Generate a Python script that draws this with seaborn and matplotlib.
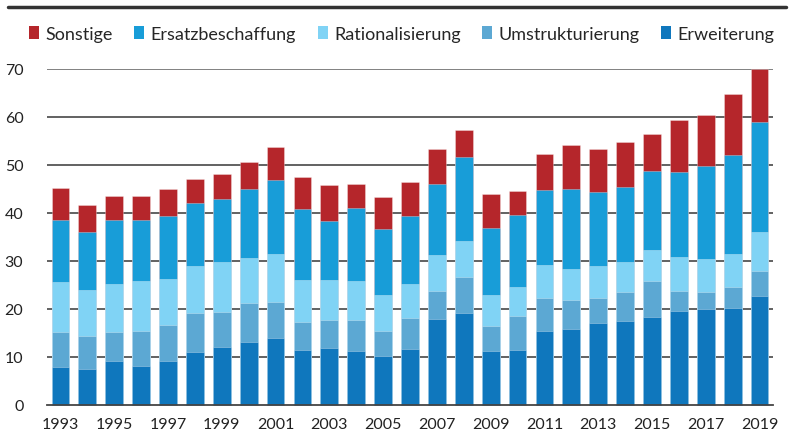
import matplotlib
matplotlib.use("Agg")
import matplotlib.pyplot as plt
import seaborn as sns
import pandas as pd
import numpy as np
from matplotlib.lines import Line2D
from matplotlib.patches import Patch

years = list(range(1993, 2020))
erweiterung = [7.9, 7.5, 9.2, 8.2, 9.2, 11.1, 12.1, 13.2, 14.0, 11.5, 11.9, 11.3, 10.2, 11.7,
               18.0, 19.2, 11.3, 11.5, 15.4, 15.9, 17.0, 17.5, 18.4, 19.6, 20.0, 20.3, 22.8]
umstrukturierung = [7.4, 6.9, 6.1, 7.3, 7.5, 8.1, 7.3, 8.1, 7.5, 5.8, 5.8, 6.4, 5.2, 6.5,
                    5.8, 7.5, 5.2, 7.1, 6.8, 6.0, 5.3, 6.1, 7.5, 4.2, 3.6, 4.3, 5.2]
rationalisierung = [10.4, 9.6, 10.0, 10.4, 9.6, 9.7, 10.3, 9.4, 10.0, 8.8, 8.4, 8.2, 7.6, 7.1,
                    7.4, 7.5, 6.5, 6.0, 7.0, 6.5, 6.6, 6.2, 6.4, 7.0, 6.8, 6.9, 8.0]
ersatzbeschaffung = [12.9, 12.1, 13.2, 12.7, 13.1, 13.1, 13.3, 14.4, 15.4, 14.7, 12.2, 15.2, 13.7, 14.1,
                     14.9, 17.4, 13.9, 15.0, 15.6, 16.6, 15.5, 15.6, 16.4, 17.7, 19.4, 20.6, 23.0]
sonstige = [6.6, 5.6, 5.1, 5.0, 5.5, 5.0, 5.1, 5.5, 6.8, 6.7, 7.5, 5.0, 6.6, 7.0,
            7.2, 5.6, 7.0, 4.9, 7.5, 9.1, 8.9, 9.4, 7.7, 10.8, 10.7, 12.7, 11.1]

series_names = ["Erweiterung", "Umstrukturierung", "Rationalisierung", "Ersatzbeschaffung", "Sonstige"]
colors = {"Erweiterung": "#0f77bd", "Umstrukturierung": "#5ca8d3", "Rationalisierung": "#80d3f5",
          "Ersatzbeschaffung": "#189dd8", "Sonstige": "#b5262b"}

df = pd.DataFrame({"Jahr": [str(y) for y in years],
                   "Erweiterung": erweiterung, "Umstrukturierung": umstrukturierung,
                   "Rationalisierung": rationalisierung, "Ersatzbeschaffung": ersatzbeschaffung,
                   "Sonstige": sonstige})
cum = df[series_names].cumsum(axis=1)
cum["Jahr"] = df["Jahr"]

sns.set_style("white")
plt.rcParams["font.family"] = ["Lato", "DejaVu Sans"]

fig = plt.figure(figsize=(7.94, 4.39), dpi=100)
ax = fig.add_axes([47/794, 1-406/439, 726/794, 336/439])

for name in reversed(series_names):
    sns.barplot(data=cum, x="Jahr", y=name, color=colors[name], width=0.66, ax=ax,
                edgecolor=(1, 1, 1, 0.35), linewidth=0.6, saturation=1, zorder=3)

ax.set_xlim(-0.5, len(years) - 0.5)
ax.set_ylim(0, 70)
for p in ax.patches:
    p.set_clip_on(False)

ax.set_yticks(np.arange(0, 71, 10))
ax.set_yticklabels([str(v) for v in range(0, 71, 10)], fontsize=11.5, color="#222222")
ax.tick_params(axis="y", length=0, pad=17)
for v in range(10, 71, 10):
    ax.axhline(v, color="#555555" if v < 70 else "#777777", lw=1.3, zorder=1)

ax.set_xticks(np.arange(0, len(years), 2))
ax.set_xticklabels([str(y) for y in years[::2]], fontsize=11.5, color="#222222")
ax.set_xticks(np.arange(-0.5, len(years), 1), minor=True)
ax.tick_params(axis="x", which="major", length=0, pad=9)
ax.tick_params(axis="x", which="minor", length=4.5, width=1.1, color="#444444")
ax.set_xlabel("")
ax.set_ylabel("")

for s in ["top", "right", "left"]:
    ax.spines[s].set_visible(False)
ax.spines["bottom"].set_color("#444444")
ax.spines["bottom"].set_linewidth(1.3)
ax.spines["bottom"].set_zorder(5)

labels = ["Sonstige", "Ersatzbeschaffung", "Rationalisierung", "Umstrukturierung", "Erweiterung"]
handles = [Patch(facecolor=colors[n], edgecolor="none") for n in labels]
fig.legend(handles, labels, loc="center", bbox_to_anchor=(0.506, 1-35/439), ncol=5, frameon=False,
           fontsize=13, handlelength=0.55, handleheight=0.7, handletextpad=0.35, columnspacing=1.2,
           borderaxespad=0, borderpad=0)

fig.add_artist(Line2D([8/794, 786/794], [1-7.5/439, 1-7.5/439], color="#333333", lw=2.5))

fig.savefig("out.png", dpi=100)
